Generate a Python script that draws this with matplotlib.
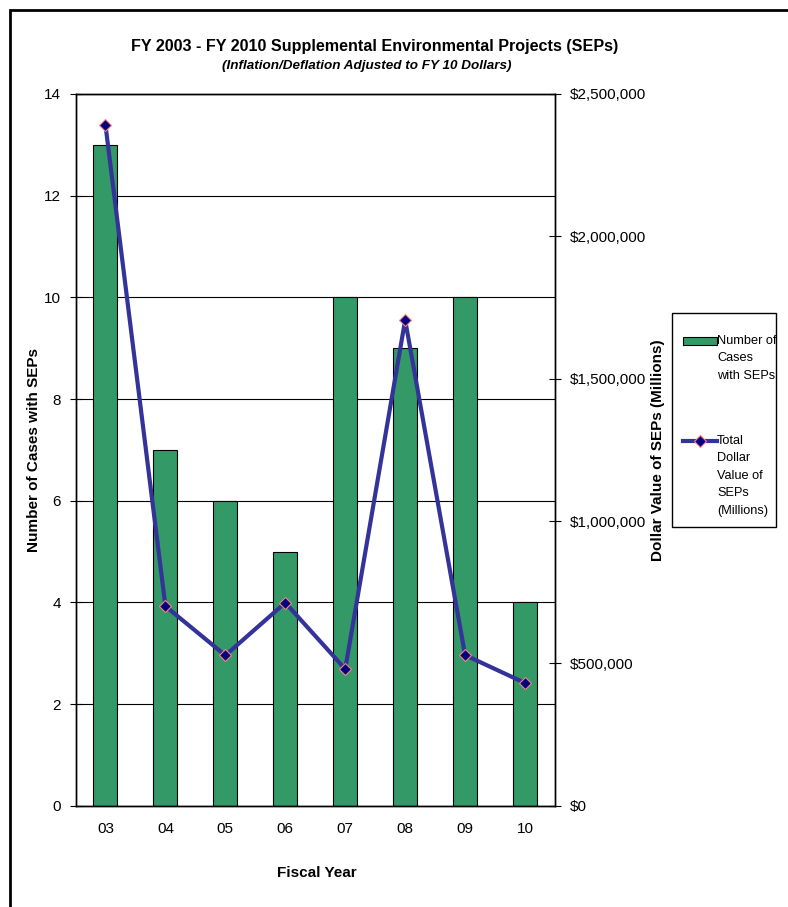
import matplotlib
matplotlib.use("Agg")
import matplotlib.pyplot as plt
from matplotlib.lines import Line2D
from matplotlib.patches import Rectangle
from matplotlib.ticker import FuncFormatter

plt.rcParams['font.family'] = ['Liberation Sans', 'DejaVu Sans']

years = ['03', '04', '05', '06', '07', '08', '09', '10']
cases = [13, 7, 6, 5, 10, 9, 10, 4]
dollars = [2391000, 701000, 528000, 713000, 480000, 1706000, 529000, 431000]

BAR_GREEN = '#339966'
LINE_BLUE = '#333399'

W, H = 788, 907
fig = plt.figure(figsize=(W / 100, H / 100), dpi=100)


def fx(px):
    return px / W


def fy(py):
    # pixel rows counted from the top
    return 1 - py / H


ax = fig.add_axes([fx(75.5), fy(805.7), fx(555 - 75.5), (805.7 - 94) / H])
ax2 = ax.twinx()

x = list(range(len(years)))
ax.bar(x, cases, width=0.4, color=BAR_GREEN, edgecolor='black', linewidth=0.8, zorder=2)
ax.set_xlim(-0.5, len(years) - 0.5)
ax.set_ylim(0, 14)
ax.set_yticks(range(0, 15, 2))
ax.yaxis.grid(True, color='black', linewidth=0.8, zorder=0)
ax.set_axisbelow(True)
ax.set_xticks(x)
ax.set_xticklabels(years)
ax.tick_params(axis='x', length=0, pad=12, labelsize=11)
ax.tick_params(axis='y', direction='inout', length=9, width=0.8, labelsize=11, pad=6)

line_style = dict(color=LINE_BLUE, linewidth=3, marker='D', markersize=6,
                  markerfacecolor='#000080', markeredgecolor='#FF8080', markeredgewidth=0.8)
ax2.plot(x, dollars, zorder=3, **line_style)
ax2.set_ylim(0, 2500000)
ax2.set_yticks(range(0, 2500001, 500000))
ax2.yaxis.set_major_formatter(FuncFormatter(lambda v, p: '${:,.0f}'.format(v)))
ax2.tick_params(axis='y', direction='inout', length=9, width=0.8, labelsize=11, pad=6)

for a in (ax, ax2):
    for s in a.spines.values():
        s.set_linewidth(1.0)

# axis titles
fig.text(fx(34), fy(450), 'Number of Cases with SEPs', rotation=90,
         ha='center', va='center', fontsize=11, fontweight='bold')
fig.text(fx(658), fy(450), 'Dollar Value of SEPs (Millions)', rotation=90,
         ha='center', va='center', fontsize=11, fontweight='bold')
fig.text(fx(317), fy(873), 'Fiscal Year', ha='center', va='center',
         fontsize=11, fontweight='bold')

fig.text(fx(375), fy(47), 'FY 2003 - FY 2010 Supplemental Environmental Projects (SEPs)',
         ha='center', va='center', fontsize=11.6, fontweight='bold')
fig.text(fx(367), fy(66), '(Inflation/Deflation Adjusted to FY 10 Dollars)',
         ha='center', va='center', fontsize=9.7, fontweight='bold', style='italic')

# legend, laid out like the Excel one (key beside the first text line)
fig.add_artist(Rectangle((fx(672), fy(527)), fx(776 - 672), (527 - 313) / H,
                         transform=fig.transFigure, fill=False, edgecolor='black', linewidth=1.0))
fig.add_artist(Rectangle((fx(683), fy(345)), fx(34), 8 / H, transform=fig.transFigure,
                         facecolor=BAR_GREEN, edgecolor='black', linewidth=0.8))
fig.text(fx(717), fy(335), 'Number of\nCases\nwith SEPs', ha='left', va='top',
         fontsize=9.2, linespacing=1.6)
fig.add_artist(Line2D([fx(683), fx(717)], [fy(441), fy(441)], transform=fig.transFigure,
                      color=LINE_BLUE, linewidth=3))
fig.add_artist(Line2D([fx(700)], [fy(441)], transform=fig.transFigure, linestyle='none',
                      **{k: v for k, v in line_style.items() if k not in ('color', 'linewidth')}))
fig.text(fx(717), fy(435), 'Total\nDollar\nValue of\nSEPs\n(Millions)', ha='left', va='top',
         fontsize=9.2, linespacing=1.6)

# outer chart border (runs off the right and bottom edges)
fig.add_artist(Rectangle((fx(10), -0.05), 1.2, 1 - 10 / H + 0.05, transform=fig.transFigure,
                         fill=False, edgecolor='black', linewidth=2))

fig.savefig('out.png', dpi=100)
